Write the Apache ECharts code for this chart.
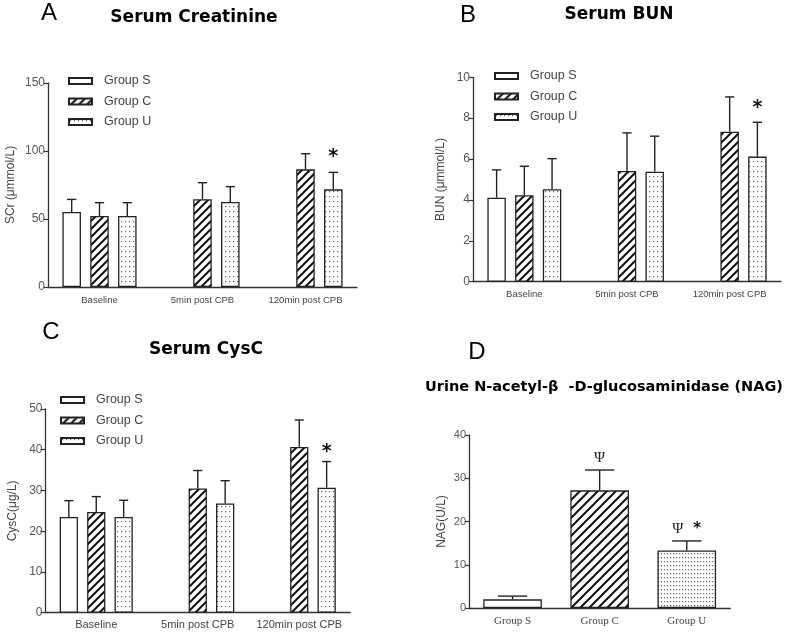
<!DOCTYPE html>
<html><head><meta charset="utf-8">
<script src="https://cdn.jsdelivr.net/npm/echarts@6/dist/echarts.min.js"></script>
<style>html,body{margin:0;padding:0;background:#fff}#c{width:788px;height:633px}</style>
</head><body><div id="c"></div>
<script>
// ---------- DATA ----------
const timeCats = ['Baseline', '5min post CPB', '120min post CPB'];
const nagCats = ['Group S', 'Group C', 'Group U'];
const groupNames = ['Group S', 'Group C', 'Group U'];

// A: Serum creatinine (µmol/L) mean and error
const scrS = [55.1, null, null];
const scrC = [52.2, 64.5, 86.5];
const scrU = [52.2, 62.5, 71.8];
const scrSErr = [9.3, null, null];
const scrCErr = [9.8, 12.2, 11.5];
const scrUErr = [9.8, 11.3, 12.5];
const scrUSig = ['', '', '*'];

// B: Serum BUN (mmol/L)
const bunS = [4.11, null, null];
const bunC = [4.23, 5.42, 7.34];
const bunU = [4.52, 5.38, 6.12];
const bunSErr = [1.36, null, null];
const bunCErr = [1.42, 1.86, 1.70];
const bunUErr = [1.50, 1.74, 1.68];
const bunUSig = ['', '', '*'];

// C: Serum CysC (µg/L)
const cysS = [23.5, null, null];
const cysC = [24.7, 30.5, 40.7];
const cysU = [23.5, 26.8, 30.7];
const cysSErr = [4.0, null, null];
const cysCErr = [3.8, 4.4, 6.6];
const cysUErr = [4.1, 5.6, 6.4];
const cysUSig = ['', '', '*'];

// D: Urine NAG (U/L)
const nagVals = [2.0, 27.2, 13.3];
const nagErr = [0.75, 4.7, 2.2];
const nagSig = ['', '{p|Ψ}', '{p|Ψ}   {s|*}'];

// ---------- STYLES ----------
function hatchCanvas(sp, lw) {
  const c = document.createElement('canvas'); c.width = sp; c.height = sp;
  const x = c.getContext('2d'); x.fillStyle = '#fff'; x.fillRect(0, 0, sp, sp);
  x.strokeStyle = '#111'; x.lineWidth = lw;
  x.beginPath();
  x.moveTo(0, sp); x.lineTo(sp, 0);
  x.moveTo(-2, 2); x.lineTo(2, -2);
  x.moveTo(sp - 2, sp + 2); x.lineTo(sp + 2, sp - 2);
  x.stroke();
  return c;
}
function dotCanvas(w, h) {
  const c = document.createElement('canvas'); c.width = w; c.height = h;
  const x = c.getContext('2d'); x.fillStyle = '#fff'; x.fillRect(0, 0, w, h);
  x.fillStyle = '#666'; x.fillRect(1, 1, 1.2, 1.2);
  return c;
}
const fills = [
  '#ffffff',
  { image: hatchCanvas(8, 2), repeat: 'repeat' },
  { image: dotCanvas(4, 5), repeat: 'repeat' }
];
const fillsD = [
  '#ffffff',
  { image: hatchCanvas(9, 2), repeat: 'repeat' },
  { image: dotCanvas(3.5, 4), repeat: 'repeat' }
];

const axisColor = '#333';
const textColor = '#444';
const sans = 'Liberation Sans';

const grids = [
  { left: 48, right: 431, top: 83, bottom: 346 },
  { left: 473, right: 7, top: 77.3, bottom: 351.3 },
  { left: 45.5, right: 438, top: 409, bottom: 20.3 },
  { left: 469, right: 57.7, top: 435, bottom: 25 }
];

const BAR_FRAC = 0.18;

function errRender(idx, n, frac, sig, sigGap, sigStyle) {
  return function (params, api) {
    const k = api.value(0), m = api.value(1), e = api.value(2);
    if (isNaN(m) || isNaN(e)) return null;
    const b = api.coord([k, m]);
    const t = api.coord([k, m + e]);
    const band = api.size([1, 0])[0];
    const bw = band * frac;
    const off = (idx - (n - 1) / 2) * bw * 1.5;
    const x = b[0] + off;
    const cap = bw * 0.5;
    const ls = { stroke: '#222', lineWidth: 1.4 };
    const children = [
      { type: 'line', shape: { x1: x, y1: b[1], x2: x, y2: t[1] }, style: ls },
      { type: 'line', shape: { x1: x - cap / 2, y1: t[1], x2: x + cap / 2, y2: t[1] }, style: ls }
    ];
    const s = sig ? sig[params.dataIndex] : '';
    if (s) {
      children.push({ type: 'text', style: Object.assign({ text: s, x: x, y: t[1] - sigGap, align: 'center', verticalAlign: 'middle', fill: '#111' }, sigStyle) });
    }
    return { type: 'group', children: children };
  };
}

function yAxisDef(gi, name, min, max, interval, nameGap, labelSize, tickLen) {
  return {
    gridIndex: gi, type: 'value', min: min, max: max, interval: interval,
    name: name, nameLocation: 'middle', nameGap: nameGap,
    nameTextStyle: { color: textColor, fontSize: 12, fontFamily: sans },
    axisLine: { show: true, lineStyle: { color: axisColor, width: 1.3 } },
    axisTick: { show: true, length: tickLen, lineStyle: { color: axisColor, width: 1.2 } },
    axisLabel: { color: '#555', fontSize: labelSize, fontFamily: sans, margin: 3 },
    splitLine: { show: false }
  };
}
function xAxisDef(gi, cats, fs, family, margin) {
  return {
    gridIndex: gi, type: 'category', data: cats,
    axisLine: { show: true, lineStyle: { color: axisColor, width: 1.3 } },
    axisTick: { show: false },
    axisLabel: { color: textColor, fontSize: fs, fontFamily: family, margin: margin, interval: 0 },
    splitLine: { show: false }
  };
}

const starStyle = { font: 'bold 19px "DejaVu Sans"' };

function panelSeries(gi, means, errs, sigs, sigGap) {
  const out = [];
  means.forEach((arr, i) => {
    out.push({
      type: 'bar', name: groupNames[i], xAxisIndex: gi, yAxisIndex: gi,
      data: arr, barWidth: (BAR_FRAC * 100) + '%', barGap: '50%',
      itemStyle: { color: fills[i], borderColor: '#222', borderWidth: 1.3 },
      emphasis: { disabled: true }, animation: false
    });
  });
  means.forEach((arr, i) => {
    out.push({
      type: 'custom', xAxisIndex: gi, yAxisIndex: gi, z: 5,
      renderItem: errRender(i, means.length, BAR_FRAC, sigs[i], sigGap, starStyle),
      data: arr.map((v, k) => [k, v == null ? NaN : v, errs[i][k] == null ? NaN : errs[i][k]]),
      animation: false, silent: true
    });
  });
  return out;
}

const D_FRAC = 0.673;
const series = [].concat(
  panelSeries(0, [scrS, scrC, scrU], [scrSErr, scrCErr, scrUErr], [null, null, scrUSig], 15),
  panelSeries(1, [bunS, bunC, bunU], [bunSErr, bunCErr, bunUErr], [null, null, bunUSig], 14),
  panelSeries(2, [cysS, cysC, cysU], [cysSErr, cysCErr, cysUErr], [null, null, cysUSig], 9),
  [{
    type: 'bar', name: 'NAG', xAxisIndex: 3, yAxisIndex: 3, barWidth: (D_FRAC * 100) + '%',
    data: nagVals.map((v, i) => ({ value: v, itemStyle: { color: fillsD[i] } })),
    itemStyle: { borderColor: '#222', borderWidth: 1.3 }, animation: false
  }, {
    type: 'custom', xAxisIndex: 3, yAxisIndex: 3, z: 5,
    renderItem: errRender(0, 1, D_FRAC, nagSig, 12, {
      rich: {
        p: { font: '15px "Liberation Serif"', fill: '#222' },
        s: { font: 'bold 15px "DejaVu Sans"', fill: '#111' }
      }
    }),
    data: nagVals.map((v, k) => [k, v, nagErr[k]]), animation: false, silent: true
  }]
);

function legendDef(left, top) {
  return {
    data: groupNames, orient: 'vertical', left: left, top: top, padding: 0,
    itemWidth: 23, itemHeight: 6, itemGap: 6.5, icon: 'rect',
    textStyle: { color: textColor, fontSize: 12.5, fontFamily: sans, padding: [0, 0, 0, 7], lineHeight: 14 },
    selectedMode: false
  };
}

function t(text, x, y, font) {
  return { type: 'text', x: x, y: y, style: { text: text, font: font, fill: '#000', align: 'center', verticalAlign: 'middle' } };
}

const option = {
  backgroundColor: '#fff',
  animation: false,
  grid: grids,
  xAxis: [
    xAxisDef(0, timeCats, 9.5, sans, 8),
    xAxisDef(1, timeCats, 9.5, sans, 8),
    xAxisDef(2, timeCats, 11, sans, 7),
    xAxisDef(3, nagCats, 11, 'Liberation Serif', 8)
  ],
  yAxis: [
    yAxisDef(0, 'SCr (μmmol/L)', 0, 150, 50, 31, 12, 4),
    yAxisDef(1, 'BUN (μmmol/L)', 0, 10, 2, 26, 12, 4),
    yAxisDef(2, 'CysC(μg/L)', 0, 50, 10, 27, 12, 5),
    yAxisDef(3, 'NAG(U/L)', 0, 40, 10, 21, 11, 4)
  ],
  legend: [legendDef(68, 74), legendDef(494, 69), legendDef(60, 393)],
  series: series,
  graphic: [
    t('A', 49, 13, '24px "Liberation Sans"'),
    t('Serum Creatinine', 194, 18, 'bold 17px "DejaVu Sans"'),
    t('B', 468, 15, '24px "Liberation Sans"'),
    t('Serum BUN', 619, 15, 'bold 17px "DejaVu Sans"'),
    t('C', 51, 332, '24px "Liberation Sans"'),
    t('Serum CysC', 206, 350, 'bold 17px "DejaVu Sans"'),
    t('D', 477, 352, '24px "Liberation Sans"'),
    t('Urine N-acetyl-β  -D-glucosaminidase (NAG)', 604, 387, 'bold 14.5px "DejaVu Sans"')
  ]
};

const chart = echarts.init(document.getElementById('c'), null, { renderer: 'canvas' });
chart.setOption(option);
</script>
</body></html>
